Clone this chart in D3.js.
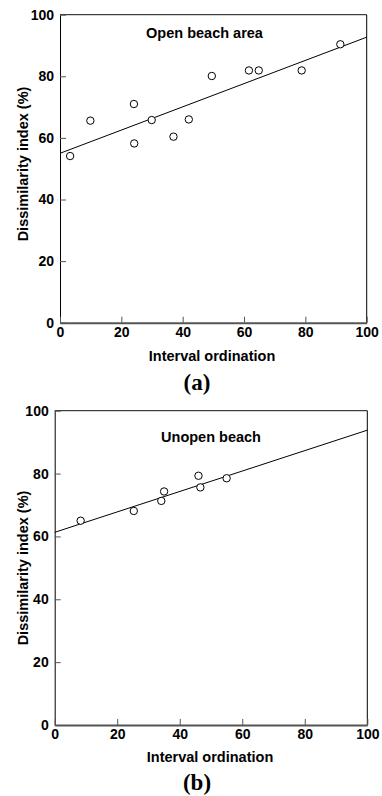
<!DOCTYPE html>
<html>
<head>
<meta charset="utf-8">
<script src="https://cdn.jsdelivr.net/npm/d3@7"></script>
<style>
  html, body { margin: 0; padding: 0; background: #fff; }
  svg { display: block; }
  text { font-family: "Liberation Sans", Arial, sans-serif; font-weight: bold; fill: #000; }
</style>
</head>
<body>
<script>
// ---- data ----
const xTicks = [0, 20, 40, 60, 80, 100];
const yTicks = [0, 20, 40, 60, 80, 100];

const openX = [3.3, 9.9, 24.1, 24.2, 29.9, 37.0, 42.0, 49.5, 61.6, 64.8, 78.8, 91.4];
const openY = [54.1, 65.6, 71.0, 58.2, 65.8, 60.4, 66.0, 80.1, 81.9, 81.9, 81.9, 90.4];
const openFit = [55.0, 92.7];   // fitted value at x = 0 and x = 100

const unopenX = [8.3, 25.3, 34.1, 35.0, 46.0, 46.6, 55.0];
const unopenY = [65.0, 68.1, 71.3, 74.3, 79.3, 75.6, 78.5];
const unopenFit = [61.3, 93.8];

const panelTitles = ["Open beach area", "Unopen beach"];
const panelLetters = ["(a)", "(b)"];
const xTitle = "Interval ordination";
const yTitle = "Dissimilarity index (%)";

// ---- layout ----
const W = 382, H = 796;
const svg = d3.select("body").append("svg").attr("width", W).attr("height", H);

const panels = [
  { xs: openX, ys: openY, fit: openFit, title: panelTitles[0], letter: panelLetters[0],
    left: 60, right: 366.7, top: 14.7, bottom: 322.7,
    titleX: 204.5, titleY: 37.7, yTitleY: 164, xTitleX: 212, xTitleY: 361, letterX: 197, letterY: 390 },
  { xs: unopenX, ys: unopenY, fit: unopenFit, title: panelTitles[1], letter: panelLetters[1],
    left: 54.7, right: 367.3, top: 410.7, bottom: 725,
    titleX: 211, titleY: 441.7, yTitleY: 568, xTitleX: 210, xTitleY: 761.5, letterX: 197, letterY: 790 }
];

panels.forEach(p => {
  const x = d3.scaleLinear().domain([0, 100]).range([p.left, p.right]);
  const y = d3.scaleLinear().domain([0, 100]).range([p.bottom, p.top]);
  const g = svg.append("g");

  // frame top & right
  g.append("line").attr("x1", x(0)).attr("x2", x(100)).attr("y1", y(100)).attr("y2", y(100))
    .attr("stroke", "#111").attr("stroke-width", 1);
  g.append("line").attr("x1", x(100)).attr("x2", x(100)).attr("y1", y(100)).attr("y2", y(0))
    .attr("stroke", "#000").attr("stroke-width", 1);

  // y axis
  const ya = g.append("g").attr("transform", `translate(${x(0)},0)`)
    .call(d3.axisLeft(y).tickValues(yTicks).tickSizeInner(-6).tickSizeOuter(0).tickPadding(6));
  ya.select(".domain").attr("stroke", "#000").attr("stroke-width", 1);
  ya.selectAll(".tick line").attr("stroke", "#555").attr("stroke-width", 1);
  ya.selectAll(".tick text").attr("font-size", 14).attr("font-family", "Liberation Sans, Arial, sans-serif")
    .attr("font-weight", "bold").attr("fill", "#000");

  // x axis
  const xa = g.append("g").attr("transform", `translate(0,${y(0)})`)
    .call(d3.axisBottom(x).tickValues(xTicks).tickSizeInner(-6).tickSizeOuter(0).tickPadding(4));
  xa.select(".domain").attr("stroke", "#555").attr("stroke-width", 2);
  xa.selectAll(".tick line").attr("stroke", "#555").attr("stroke-width", 1);
  xa.selectAll(".tick text").attr("font-size", 14).attr("font-family", "Liberation Sans, Arial, sans-serif")
    .attr("font-weight", "bold").attr("fill", "#000");

  // fitted line
  g.append("line")
    .attr("x1", x(0)).attr("y1", y(p.fit[0]))
    .attr("x2", x(100)).attr("y2", y(p.fit[1]))
    .attr("stroke", "#000").attr("stroke-width", 1);

  // points
  g.selectAll("circle.pt").data(p.xs.map((v, i) => [v, p.ys[i]])).enter()
    .append("circle").attr("class", "pt")
    .attr("cx", d => x(d[0])).attr("cy", d => y(d[1])).attr("r", 3.7)
    .attr("fill", "#fff").attr("stroke", "#000").attr("stroke-width", 1);

  // panel title
  g.append("text").attr("x", p.titleX).attr("y", p.titleY).attr("text-anchor", "middle")
    .attr("font-size", 14.5).text(p.title);

  // axis titles
  g.append("text").attr("x", p.xTitleX).attr("y", p.xTitleY).attr("text-anchor", "middle")
    .attr("font-size", 14.5).text(xTitle);
  g.append("text").attr("transform", `translate(28,${p.yTitleY}) rotate(-90)`).attr("text-anchor", "middle")
    .attr("font-size", 14.5).text(yTitle);

  // panel letter
  g.append("text").attr("x", p.letterX).attr("y", p.letterY).attr("text-anchor", "middle")
    .attr("font-size", 23).style("font-family", "'Liberation Serif', 'Times New Roman', serif")
    .text(p.letter);
});
</script>
</body>
</html>
